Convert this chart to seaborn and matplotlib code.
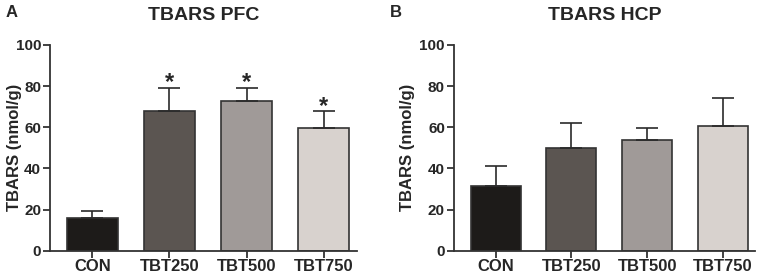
import pandas as pd
import matplotlib
matplotlib.use("Agg")
import matplotlib.pyplot as plt
import seaborn as sns

groups = ["CON", "TBT250", "TBT500", "TBT750"]
pfc_mean = [15.8, 67.8, 72.7, 59.7]
pfc_err = [3.7, 11.2, 6.3, 8.0]
hcp_mean = [31.5, 50.0, 53.6, 60.4]
hcp_err = [9.8, 12.0, 6.2, 13.6]
pfc_sig = ["", "*", "*", "*"]
hcp_sig = ["", "", "", ""]

bar_colors = ["#1e1b18", "#5d544f", "#a19997", "#dad1cc"]

sns.set_style("ticks")
plt.rcParams['font.family'] = ['Liberation Sans', 'DejaVu Sans']
plt.rcParams['font.weight'] = 'bold'

fig = plt.figure(figsize=(7.65, 2.74), dpi=100)
ax_a = fig.add_axes([0.0654, 0.085, 0.401, 0.751])
ax_b = fig.add_axes([0.5935, 0.085, 0.394, 0.751])


def draw_panel(ax, means, errs, sig, title, label_x):
    df = pd.DataFrame({"group": groups, "value": means})
    sns.barplot(data=df, x="group", y="value", hue="group", palette=bar_colors,
                legend=False, width=0.66, edgecolor="#333333", linewidth=1.2,
                ax=ax, errorbar=None)
    # one-sided (upper) error bars, like the original figure
    ax.errorbar(range(len(groups)), means, yerr=[[0] * len(errs), errs],
                fmt="none", ecolor="#2a2a2a", elinewidth=1.2, capsize=8,
                capthick=1.2, zorder=1)
    for i, s in enumerate(sig):
        if s:
            ax.text(i, means[i] + errs[i] + 2.6, s, ha="center", va="center",
                    fontsize=17, fontweight="bold")
    ax.set_ylim(0, 100)
    ax.set_xlim(-0.55, 3.43)
    ax.set_yticks([0, 20, 40, 60, 80, 100])
    ax.set_xlabel("")
    ax.set_ylabel("TBARS (nmol/g)", fontsize=12, fontweight="bold")
    ax.yaxis.set_label_coords(label_x, 0.5)
    ax.set_title(title, fontsize=14, fontweight="bold", pad=18)
    ax.tick_params(axis="both", width=1.3, length=5, color="#333333")
    ax.tick_params(axis="x", labelsize=12, pad=1)
    ax.tick_params(axis="y", labelsize=11, pad=1.5)
    for lab in ax.get_xticklabels() + ax.get_yticklabels():
        lab.set_fontweight("bold")
    for side in ["top", "right"]:
        ax.spines[side].set_visible(False)
    for side in ["left", "bottom"]:
        ax.spines[side].set_linewidth(1.3)
        ax.spines[side].set_color("#333333")


draw_panel(ax_a, pfc_mean, pfc_err, pfc_sig, "TBARS PFC", -0.09)
draw_panel(ax_b, hcp_mean, hcp_err, hcp_sig, "TBARS HCP", -0.129)
fig.text(0.007, 0.955, "A", fontsize=12, fontweight="bold", va="center", ha="left")
fig.text(0.509, 0.955, "B", fontsize=12, fontweight="bold", va="center", ha="left")

fig.savefig("out.png", dpi=100)
